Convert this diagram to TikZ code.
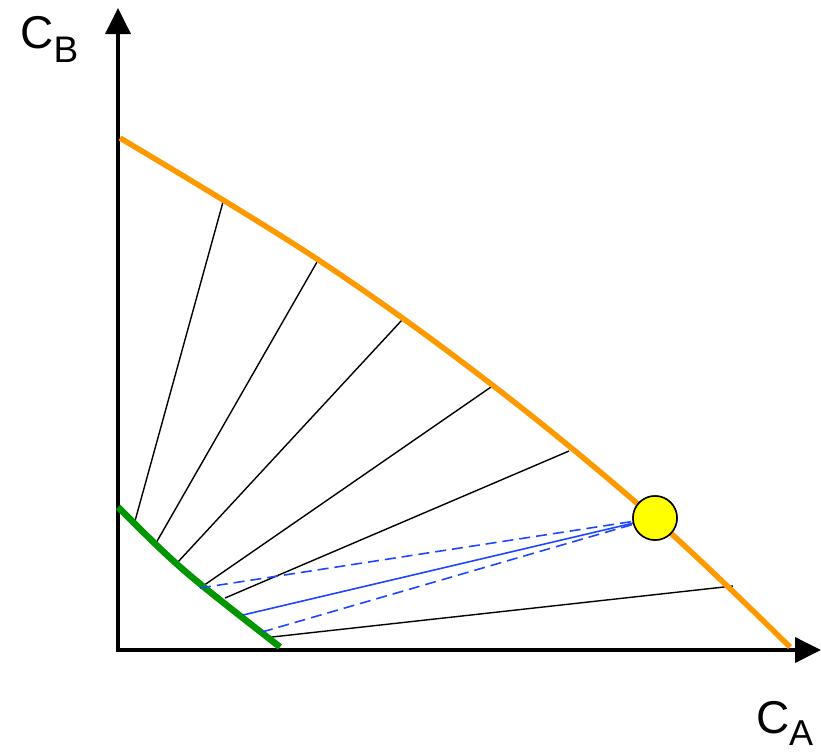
\documentclass[tikz,border=0pt]{standalone}
\usepackage{fontspec}
\setmainfont{Liberation Sans}
\usetikzlibrary{arrows.meta}
\definecolor{curveorange}{RGB}{255,153,0}
\definecolor{curvegreen}{RGB}{0,150,0}
\definecolor{tieblue}{RGB}{30,70,255}
\definecolor{dotyellow}{RGB}{255,255,0}
\begin{document}
\begin{tikzpicture}[x=1pt,y=-1pt,
  axis/.style={line width=3.8pt, line join=miter, {Triangle[length=26pt,width=25pt]}-{Triangle[length=26pt,width=25pt]}},
  orangecurve/.style={curveorange, line width=5.5pt},
  greencurve/.style={curvegreen, line width=6.5pt},
  tie/.style={black, line width=1.4pt},
  bluetie/.style={tieblue, line width=1.6pt},
  bluedash/.style={tieblue, line width=1.6pt, dash pattern=on 11pt off 6pt},
  lbl/.style={anchor=base west, inner sep=0pt, outer sep=0pt},
  dot/.style={circle, draw=black, line width=1.5pt, fill=dotyellow, minimum size=44pt, inner sep=0pt}]
\useasboundingbox (0,0) rectangle (821,753);

% axes
\coordinate (ytip) at (118,8);
\coordinate (origin) at (118,650);
\coordinate (xtip) at (821,650);
\draw[axis] (ytip) -- (origin) -- (xtip);

% labels
\node[lbl] (cb) at (20.5,48) {\fontsize{46}{50}\selectfont C\raisebox{-14pt}{\fontsize{37}{40}\selectfont B}};
\node[lbl] (ca) at (756,733) {\fontsize{46}{50}\selectfont C\raisebox{-12pt}{\fontsize{36}{40}\selectfont A}};

% points on the orange curve
\coordinate (o1) at (223,202);
\coordinate (o2) at (317,262);
\coordinate (o3) at (402,320);
\coordinate (o4) at (491,387);
\coordinate (o5) at (569,451);
\coordinate (o6) at (733,586);
% points on the green curve
\coordinate (g1) at (135,521);
\coordinate (g2) at (156,543);
\coordinate (g3) at (177,563);
\coordinate (g4) at (200,588);
\coordinate (g5) at (225,598);
\coordinate (g6) at (272,637);
\coordinate (b2) at (243,615);
\coordinate (b3) at (262,632);

% tie lines
\draw[tie] (g1) -- (o1);
\draw[tie] (g2) -- (o2);
\draw[tie] (g3) -- (o3);
\draw[tie] (g4) -- (o4);
\draw[tie] (g5) -- (o5);
\draw[tie] (g6) -- (o6);

% curves
\draw[orangecurve] plot[smooth, tension=0.6] coordinates {(120,138) (317,259) (491,384) (655,519) (790,647)};
\draw[greencurve] (118,507) .. controls (180,569) .. (280,647);

% feed point
\node[dot] (feed) at (655,518) {};
\draw[bluedash] (g4) -- (feed);
\draw[bluetie] (b2) -- (feed);
\draw[bluedash] (b3) -- (feed);
\node[dot] at (feed) {};
\end{tikzpicture}
\end{document}
